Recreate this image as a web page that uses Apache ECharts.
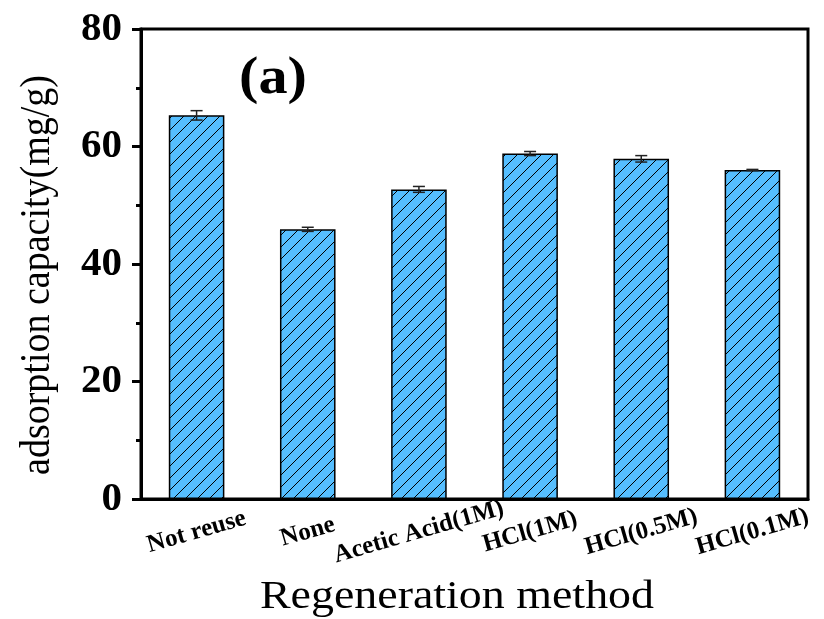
<!DOCTYPE html>
<html>
<head>
<meta charset="utf-8">
<script src="https://cdn.jsdelivr.net/npm/echarts@6/dist/echarts.min.js"></script>
<style>html,body{margin:0;padding:0;background:#fff;}#chart{width:824px;height:619px;}</style>
</head>
<body>
<div id="chart"></div>
<script>
const categories = ['Not reuse', 'None', 'Acetic Acid(1M)', 'HCl(1M)', 'HCl(0.5M)', 'HCl(0.1M)'];
const values = [65.3, 45.9, 52.7, 58.8, 57.9, 56.0];
const errors = [0.8, 0.35, 0.5, 0.35, 0.55, 0.1];
const yTicks = [0, 20, 40, 60, 80];
const xTitle = 'Regeneration method';
const yTitle = 'adsorption capacity(mg/g)';
const panelLabel = '(a)';

const serif = '"Liberation Serif", "Times New Roman", serif';

const pc = document.createElement('canvas');
pc.width = 12; pc.height = 12;
const g = pc.getContext('2d');
g.fillStyle = '#55BEFF';
g.fillRect(0, 0, 12, 12);
g.strokeStyle = '#000';
g.lineWidth = 1;
g.beginPath();
g.moveTo(0, 12); g.lineTo(12, 0);
g.moveTo(-2, 2); g.lineTo(2, -2);
g.moveTo(10, 14); g.lineTo(14, 10);
g.stroke();

const chart = echarts.init(document.getElementById('chart'));
chart.setOption({
  animation: false,
  grid: { left: 141, top: 29, right: 16, bottom: 120, show: true, borderColor: '#000', borderWidth: 3, backgroundColor: 'transparent' },
  xAxis: [{
    type: 'category',
    data: categories,
    axisLine: { lineStyle: { color: '#000', width: 3 } },
    axisTick: { alignWithLabel: true, length: 9, lineStyle: { color: '#000', width: 3 } },
    axisLabel: { rotate: 16, align: 'center', verticalAlign: 'middle', margin: 33, fontFamily: serif, fontWeight: 'bold', fontSize: 25, color: '#000', interval: 0 }
  }, {
    type: 'category',
    data: categories,
    position: 'bottom',
    axisLine: { show: false },
    axisTick: { length: 5, lineStyle: { color: '#000', width: 3 } },
    axisLabel: { show: false }
  }],
  yAxis: {
    type: 'value',
    min: 0, max: 80, interval: 20,
    axisLine: { show: true, lineStyle: { color: '#000', width: 3 } },
    axisTick: { show: true, length: 9, lineStyle: { color: '#000', width: 3 } },
    minorTick: { show: true, splitNumber: 2, length: 5, lineStyle: { color: '#000', width: 3 } },
    splitLine: { show: false },
    axisLabel: { fontFamily: serif, fontWeight: 'bold', fontSize: 41, color: '#000', margin: 19,
      formatter: v => yTicks.includes(v) ? String(v) : '' }
  },
  graphic: [{
    type: 'text', x: 273, y: 80, scaleX: 1.12,
    style: { text: panelLabel, font: 'bold 52px ' + serif, fill: '#000', textAlign: 'center', textVerticalAlign: 'middle' }
  }, {
    type: 'text', x: 457, y: 597, scaleX: 1.12,
    style: { text: xTitle, font: '41px ' + serif, fill: '#000', textAlign: 'center', textVerticalAlign: 'middle' }
  }, {
    type: 'text', x: 38, y: 275, rotation: Math.PI / 2, scaleY: 1.12,
    style: { text: yTitle, font: '38px ' + serif, fill: '#000', textAlign: 'center', textVerticalAlign: 'middle' }
  }],
  series: [{
    type: 'bar',
    data: values,
    barWidth: '50%',
    itemStyle: { color: { image: pc, repetition: 'repeat' }, borderColor: '#000', borderWidth: 1.5 }
  }, {
    type: 'custom',
    data: values.map((v, i) => [i, v, errors[i]]),
    z: 10,
    renderItem: function (params, api) {
      const i = api.value(0), v = api.value(1), e = api.value(2);
      const hi = api.coord([i, v + e]);
      const lo = api.coord([i, v - e]);
      const hw = 6;
      const st = { stroke: '#222', lineWidth: 1.5 };
      return {
        type: 'group',
        children: [
          { type: 'line', shape: { x1: hi[0], y1: hi[1], x2: lo[0], y2: lo[1] }, style: st },
          { type: 'line', shape: { x1: hi[0] - hw, y1: hi[1], x2: hi[0] + hw, y2: hi[1] }, style: st },
          { type: 'line', shape: { x1: lo[0] - hw, y1: lo[1], x2: lo[0] + hw, y2: lo[1] }, style: st }
        ]
      };
    }
  }]
});
</script>
</body>
</html>
